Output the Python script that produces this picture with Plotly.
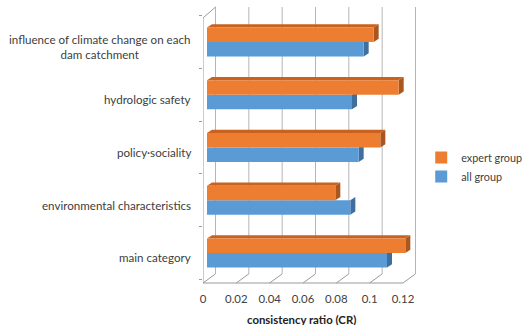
import plotly.graph_objects as go

# Consistency ratio (CR) per criterion, bottom to top
categories = [
    "main category",
    "environmental characteristics",
    "policy\u00b7sociality",
    "hydrologic safety",
    "influence of climate change on each<br>dam catchment",
]
all_group = [0.108, 0.086, 0.091, 0.087, 0.094]
expert_group = [0.119, 0.077, 0.104, 0.115, 0.100]
tick_values = [0, 0.02, 0.04, 0.06, 0.08, 0.1, 0.12]
tick_labels = ["0", "0.02", "0.04", "0.06", "0.08", "0.1", "0.12"]

ORANGE, ORANGE_TOP, ORANGE_SIDE = "#ED7D31", "#C8621E", "#A9561F"
BLUE, BLUE_SIDE = "#5B9BD5", "#3F6F9C"
GRID = "#B5B5B5"
WALL = "#9A9A9A"
TEXT = "#404040"
FONT = "Lato"

pos = list(range(len(categories)))
BAR_W = 0.275          # each bar's thickness in category units
DX, DY = 0.003, 0.06   # depth offset of the 3-D faces
FRONT = -0.0024        # front-plane shift of the walls (value units)
BACK = 0.0051          # back-plane shift of the walls (value units)
BACK_FLOOR = 0.033     # paper height of the back floor edge
FRONT_TOP = 0.96       # paper height of the front top of the side wall

fig = go.Figure()
fig.add_trace(go.Bar(y=pos, x=all_group, orientation="h", name="all group",
                     marker=dict(color=BLUE, line=dict(width=0))))
fig.add_trace(go.Bar(y=pos, x=expert_group, orientation="h", name="expert group",
                     marker=dict(color=ORANGE, line=dict(width=0))))

shapes = []
# back wall gridlines and floor diagonals
for v in tick_values:
    shapes.append(dict(type="line", xref="x", yref="paper", x0=v + BACK, x1=v + BACK,
                       y0=BACK_FLOOR, y1=1, line=dict(color=GRID, width=1), layer="below"))
    shapes.append(dict(type="line", xref="x", yref="paper", x0=v + FRONT, x1=v + BACK,
                       y0=0, y1=BACK_FLOOR, line=dict(color=WALL, width=1), layer="below"))
# floor front edge and left wall
shapes.append(dict(type="line", xref="x", yref="paper", x0=FRONT, x1=tick_values[-1] + FRONT,
                   y0=0, y1=0, line=dict(color=WALL, width=1), layer="below"))
shapes.append(dict(type="line", xref="x", yref="paper", x0=FRONT, x1=FRONT,
                   y0=0, y1=FRONT_TOP, line=dict(color=WALL, width=1), layer="below"))
shapes.append(dict(type="line", xref="x", yref="paper", x0=FRONT, x1=BACK,
                   y0=FRONT_TOP, y1=1, line=dict(color=WALL, width=1), layer="below"))


def poly(pts):
    return "M " + " L ".join(f"{x},{y}" for x, y in pts) + " Z"


# 3-D side and top faces of the bars
for c, vb, vo in zip(pos, all_group, expert_group):
    shapes.append(dict(type="path", xref="x", yref="y", layer="below", line=dict(width=0),
                       fillcolor=BLUE_SIDE,
                       path=poly([(vb, c - BAR_W), (vb, c), (vb + DX, c + DY), (vb + DX, c - BAR_W + DY)])))
    shapes.append(dict(type="path", xref="x", yref="y", layer="below", line=dict(width=0),
                       fillcolor=ORANGE_SIDE,
                       path=poly([(vo, c), (vo, c + BAR_W), (vo + DX, c + BAR_W + DY), (vo + DX, c + DY)])))
    shapes.append(dict(type="path", xref="x", yref="y", layer="below", line=dict(width=0),
                       fillcolor=ORANGE_TOP,
                       path=poly([(0, c + BAR_W), (vo, c + BAR_W), (vo + DX, c + BAR_W + DY), (DX, c + BAR_W + DY)])))

# category labels, centred lines, right-aligned against the wall
annotations = []
for c, label in zip(pos, categories):
    annotations.append(dict(xref="paper", yref="y", x=0, y=c, xshift=-10, yshift=-5,
                            text=label, showarrow=False, xanchor="right", yanchor="middle",
                            align="center", font=dict(family=FONT, size=11.6, color=TEXT)))
annotations.append(dict(xref="paper", yref="paper", x=0.46, y=0, yshift=-36,
                        text="<b>consistency ratio (CR)</b>", showarrow=False,
                        xanchor="center", yanchor="middle",
                        font=dict(family=FONT, size=11.4, color="#222222")))

fig.update_layout(
    width=525, height=325,
    margin=dict(l=203, r=107, t=7, b=42, autoexpand=False),
    paper_bgcolor="white", plot_bgcolor="white",
    barmode="group", bargap=0.45, bargroupgap=0,
    shapes=shapes, annotations=annotations,
    font=dict(family=FONT, size=11, color=TEXT),
    showlegend=True,
    legend=dict(x=1.015, xanchor="left", y=0.42, yanchor="middle", traceorder="reversed",
                font=dict(family=FONT, size=10.8, color=TEXT), bgcolor="rgba(0,0,0,0)"),
    xaxis=dict(range=[FRONT, 0.1266], tickvals=tick_values, ticktext=tick_labels,
               showgrid=False, zeroline=False, showline=False, ticks="",
               ticklabelshift=-4, ticklabelstandoff=8,
               tickfont=dict(family=FONT, size=11.4, color=TEXT)),
    yaxis=dict(range=[-0.569, 4.664], showgrid=False, zeroline=False, showline=False,
               showticklabels=False,
               tickvals=[p - 0.5 for p in pos] + [pos[-1] + 0.5],
               ticks="outside", ticklen=3, tickcolor=WALL),
)

fig.write_html("out.html")
